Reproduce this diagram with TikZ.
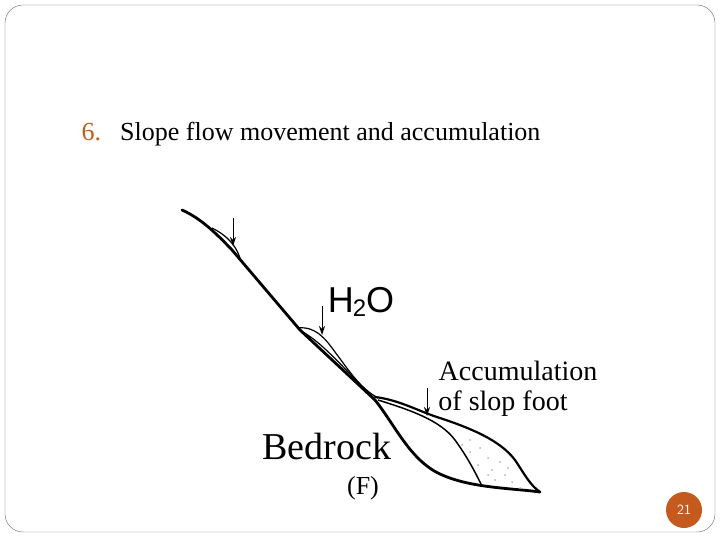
\documentclass[tikz,border=0pt]{standalone}
\usepackage{fontspec}
\setmainfont{Liberation Serif}
\newfontfamily\labelsans{Liberation Sans}
\usetikzlibrary{arrows.meta}
\definecolor{numcol}{RGB}{196,90,30}
\begin{document}
\begin{tikzpicture}[x=1pt,y=-1pt]

\tikzset{
    rock/.style = {line width=2.8pt, line cap=round, line join=round},
    layer/.style = {line width=1.2pt},
    rain/.style = {-{Stealth[length=9pt,width=6pt]}, line width=1pt}
}

\useasboundingbox (0,0) rectangle (720,540);
\draw[rounded corners=18pt, gray!80!black] (5,5) rectangle (715,532);

\node (num) [anchor=base west, text=numcol, font=\fontsize{26}{30}\selectfont] at (78,141) {6.};
\node (title) [anchor=base west, inner sep=0pt, font=\fontsize{26}{30}\selectfont] at (120,141) {Slope flow movement and accumulation};

% bedrock line
\draw[rock] (182,210) .. controls (200,218) and (215,232) .. (232,250)
  -- (300,330) -- (375,400) .. controls (395,425) and (410,460) .. (440,474)
  .. controls (470,488) and (510,488) .. (540,492);

% upper lens
\draw[layer] (212,228) .. controls (228,236) and (236,246) .. (240,258);
% middle lens
\draw[layer] (298,328) .. controls (315,326) and (325,338) .. (335,352)
  .. controls (350,372) and (360,388) .. (378,398);
\draw[layer] (303,332) .. controls (325,345) and (345,370) .. (372,396);

% accumulation body
\draw[rock, line width=2.2pt] (375,397) .. controls (400,400) and (420,412) .. (440,418)
  .. controls (470,428) and (500,440) .. (515,460) .. controls (525,475) and (530,485) .. (540,492);
\draw[layer, line width=1.5pt] (378,400) .. controls (410,410) and (440,420) .. (455,440)
  .. controls (468,458) and (475,472) .. (482,486);
\foreach \x/\y in {462/445, 470/452, 480/448, 488/458, 478/465, 492/470, 500/462, 505/475, 495/480, 512/482, 488/475, 520/488, 508/468, 470/440}{
    \fill[gray!60] (\x,\y) circle (1pt);
}

% water arrows
\draw[rain] (233,218) -- (233,246);
\draw[rain] (322,306) -- (322,335);
\draw[rain] (427,388) -- (427,416);

\node (water) [font=\labelsans\fontsize{36}{40}\selectfont] at (361,302) {H\kern-1pt\raisebox{-4pt}{\fontsize{24}{26}\selectfont2}O};
\node (acc1) [font=\fontsize{28}{30}\selectfont] at (518,371) {Accumulation};
\node (acc2) [font=\fontsize{28}{30}\selectfont] at (503,404) {of slop foot};
\node (rock) [font=\fontsize{38}{40}\selectfont] at (327,446) {Bedrock};
\node (tag) [font=\fontsize{26}{28}\selectfont] at (363,488) {(F)};

\node (page) [circle, fill=numcol, minimum size=36pt, inner sep=0pt, text=white, font=\sffamily\fontsize{14}{16}\selectfont] at (684,510) {21};

\end{tikzpicture}
\end{document}
